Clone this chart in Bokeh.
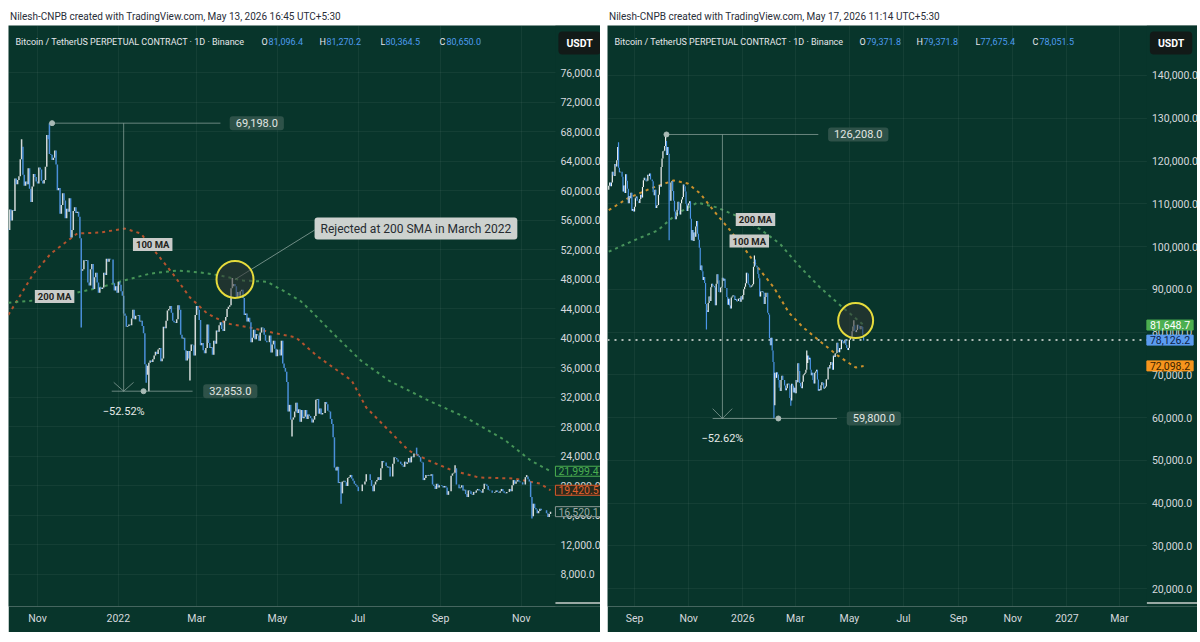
import numpy as np
import pandas as pd
from bokeh.plotting import figure
from bokeh.layouts import row, column
from bokeh.models import (Range1d, Label, NumeralTickFormatter, FixedTicker, Div, BoxAnnotation)
from bokeh.embed import file_html
from bokeh.resources import INLINE

# ======================= LEFT PANEL DATA (daily closes, thousands USDT) =======================
L_start = "2021-10-10"
L_open0 = 54.9
L_2021_10 = [54.7, 57.5, 56.0, 57.4, 57.3, 61.7, 60.9, 61.5, 62.0, 64.3, 66.0, 62.2, 60.7, 61.3, 60.9,
             63.1, 60.3, 58.5, 60.6, 62.3, 61.9, 61.3]
L_2021_11 = [61.0, 63.2, 62.9, 61.4, 61.0, 61.5, 63.3, 67.6, 67.0, 65.0, 64.9, 64.2, 64.5, 65.5, 63.6,
             60.1, 60.4, 56.9, 58.1, 59.7, 58.7, 56.3, 57.6, 57.2, 59.0, 53.7, 54.7, 57.3, 57.8, 57.0]
L_2021_12 = [57.2, 56.5, 53.6, 49.2, 49.4, 50.6, 50.5, 50.6, 47.6, 47.2, 49.4, 50.1, 46.7, 48.3, 48.9,
             47.6, 46.2, 46.9, 46.7, 46.9, 48.9, 48.6, 50.8, 50.4, 50.8, 50.7, 50.7, 47.5, 46.5, 47.1, 46.2]
L_2022_01 = [47.7, 47.3, 46.4, 45.8, 43.4, 43.1, 41.6, 41.7, 41.9, 41.8, 42.7, 43.9, 42.6, 43.1, 43.1,
             43.2, 42.3, 42.4, 41.7, 40.7, 36.5, 35.1, 36.3, 36.7, 37.0, 36.8, 37.2, 37.7, 38.2, 37.9, 38.5]
L_2022_02 = [38.7, 36.9, 37.3, 41.6, 41.4, 42.4, 43.8, 44.0, 44.4, 43.5, 42.4, 42.2, 42.1, 42.6, 44.5,
             43.9, 40.5, 40.0, 40.1, 38.4, 37.0, 38.3, 37.3, 38.3, 39.2, 39.1, 37.7, 43.2]
L_2022_03 = [44.4, 43.9, 42.5, 39.1, 39.4, 38.4, 38.0, 38.7, 41.9, 39.4, 38.7, 38.8, 37.8, 39.7, 39.3,
             41.1, 40.9, 41.8, 42.2, 41.3, 41.0, 42.4, 42.9, 44.0, 44.3, 44.5, 46.8, 47.1, 47.4, 47.1, 45.5]
L_2022_04 = [46.3, 45.8, 46.4, 46.6, 45.5, 43.2, 43.4, 42.3, 42.8, 42.2, 39.5, 40.1, 41.2, 39.9, 40.6,
             40.4, 39.7, 40.8, 41.5, 41.4, 40.5, 39.7, 39.5, 39.5, 40.4, 38.1, 39.2, 39.7, 38.6, 37.6]
L_2022_05 = [38.5, 38.5, 37.7, 39.7, 36.6, 36.0, 35.5, 34.1, 30.1, 31.0, 29.0, 29.0, 29.3, 30.1, 31.3,
             29.9, 30.4, 28.7, 30.3, 29.2, 29.4, 30.3, 29.1, 29.7, 29.5, 29.2, 28.6, 29.0, 29.5, 31.7, 31.8]
L_2022_06 = [29.8, 30.5, 29.7, 29.9, 29.9, 31.4, 31.1, 30.2, 30.1, 29.1, 28.4, 26.6, 22.5, 22.1, 22.6,
             20.4, 20.5, 19.0, 20.6, 20.7, 20.5, 20.0, 21.1, 21.2, 21.5, 21.0, 20.7, 20.3, 20.1, 19.9]
L_2022_07 = [19.3, 19.3, 19.3, 20.2, 20.2, 20.6, 21.6, 21.6, 21.6, 20.8, 20.0, 19.3, 20.2, 20.6, 20.8,
             21.2, 20.8, 22.4, 23.4, 23.2, 23.2, 22.7, 22.5, 22.6, 21.3, 21.3, 23.0, 23.9, 23.8, 23.6, 23.3]
L_2022_08 = [23.3, 23.0, 22.8, 22.6, 23.3, 23.0, 23.2, 23.8, 23.2, 24.0, 23.9, 24.4, 24.4, 24.3, 24.1,
             23.9, 23.3, 23.2, 20.8, 21.1, 21.5, 21.4, 21.5, 21.4, 21.6, 20.2, 20.0, 19.6, 20.3, 19.8, 20.1]
L_2022_09 = [20.1, 20.0, 19.8, 20.0, 19.8, 18.8, 19.3, 19.3, 21.4, 21.7, 21.8, 22.4, 20.2, 20.2, 19.7,
             19.8, 20.1, 19.4, 19.5, 18.9, 18.5, 19.4, 19.3, 18.9, 18.8, 19.2, 19.1, 19.4, 19.6, 19.4]
L_2022_10 = [19.3, 19.1, 19.6, 20.3, 20.2, 20.0, 19.5, 19.4, 19.4, 19.1, 19.1, 19.2, 19.4, 19.2, 19.1,
             19.3, 19.6, 19.3, 19.1, 19.0, 19.2, 19.2, 19.6, 19.3, 20.1, 20.8, 20.3, 20.6, 20.8, 20.6, 20.5]
L_2022_11 = [20.5, 20.2, 20.2, 21.2, 21.3, 20.9, 20.6, 18.5, 15.9, 17.6, 17.0, 16.8, 16.3, 16.6, 16.9,
             16.7, 16.7, 16.7, 16.7, 16.3, 15.8, 16.2, 16.52]
L_wick_hi_dates = ["2021-10-20", "2021-11-10", "2022-03-28", "2022-08-14", "2022-09-12", "2022-11-05"]
L_wick_hi = [67000, 69198, 48190, 25200, 22800, 21480]
L_wick_lo_dates = ["2021-12-04", "2022-01-22", "2022-01-24", "2022-02-24", "2022-05-12", "2022-06-18", "2022-11-09"]
L_wick_lo = [41500, 34000, 32853, 34300, 26700, 17600, 15600]

L_ma100_dates = ["2021-10-10", "2021-10-29", "2021-11-11", "2021-12-01", "2021-12-18", "2022-01-06",
                 "2022-01-18", "2022-01-30", "2022-02-11", "2022-02-24", "2022-03-09", "2022-03-24",
                 "2022-04-10", "2022-04-27", "2022-05-15", "2022-05-31", "2022-06-26", "2022-07-07",
                 "2022-07-24", "2022-08-08", "2022-08-23", "2022-09-10", "2022-09-30", "2022-10-26",
                 "2022-11-15", "2022-11-23"]
L_ma100 = [43200, 48800, 51500, 54240, 54370, 54900, 54240, 51500, 48800, 45560, 43390, 42030, 41490,
           40810, 40140, 37600, 34300, 30640, 27530, 24810, 23460, 22100, 21150, 21020, 20340, 19420.5]
L_ma200_dates = ["2021-10-10", "2021-10-29", "2021-12-01", "2021-12-18", "2022-01-05", "2022-01-25",
                 "2022-02-15", "2022-03-04", "2022-03-19", "2022-04-05", "2022-04-23", "2022-05-05",
                 "2022-05-18", "2022-05-26", "2022-06-12", "2022-07-03", "2022-07-24", "2022-08-23",
                 "2022-09-20", "2022-10-20", "2022-11-08", "2022-11-23"]
L_ma200 = [44850, 45150, 46240, 46900, 47860, 48800, 49220, 48950, 48540, 47860, 47700, 46510, 45150,
           43800, 40680, 37000, 34300, 31590, 29290, 26170, 23460, 21999.4]

L_price_ticks = [8000, 12000, 16000, 20000, 24000, 28000, 32000, 36000, 40000, 44000, 48000, 52000,
                 56000, 60000, 64000, 68000, 72000, 76000]
L_date_ticks = ["2021-11-01", "2022-01-01", "2022-03-01", "2022-05-01", "2022-07-01", "2022-09-01", "2022-11-01"]
L_date_labels = ["Nov", "2022", "Mar", "May", "Jul", "Sep", "Nov"]
L_last_text = ["21,999.4", "19,420.5", "16,520.1"]
L_last_vals = [21999.4, 19420.5, 16520.1]
L_header = "Nilesh-CNPB created with TradingView.com, May 13, 2026 16:45 UTC+5:30"
L_ohlc_text = ["81,096.4", "81,270.2", "80,364.5", "80,650.0"]
L_range_dates = ["2021-11-12", "2022-01-20"]      # high point, low point of range tool
L_range_vals = [69198.0, 32853.0]
L_range_text = ["69,198.0", "32,853.0", "\u221252.52%"]
L_note = "Rejected at 200 SMA in March 2022"

# ======================= RIGHT PANEL DATA (daily closes, thousands USDT) =======================
R_start = "2025-08-03"
R_open0 = 113.3
R_2025_08 = [114.2, 115.0, 114.1, 115.0, 117.5, 116.7, 116.5, 119.3, 118.7, 120.2, 123.3, 118.4, 117.4,
             117.5, 117.5, 116.3, 112.9, 114.3, 112.5, 116.9, 115.4, 113.5, 110.1, 111.8, 111.3, 112.6,
             108.4, 108.8, 108.2]
R_2025_09 = [109.3, 111.3, 111.7, 110.7, 110.7, 110.2, 111.1, 112.1, 111.5, 113.9, 115.5, 116.1, 115.9,
             115.3, 115.4, 116.8, 116.5, 117.1, 115.7, 115.7, 115.3, 112.7, 112.0, 113.3, 109.0, 109.6,
             109.7, 112.1, 114.4, 114.0]
R_2025_10 = [118.6, 120.6, 122.3, 122.4, 123.5, 124.7, 121.4, 123.3, 121.7, 113.2, 110.7, 115.0, 115.3,
             113.0, 110.7, 108.2, 106.4, 107.1, 108.6, 110.5, 108.4, 107.5, 110.1, 111.0, 111.6, 114.5,
             114.1, 112.9, 110.0, 108.3, 109.6]
R_2025_11 = [110.1, 110.6, 106.5, 101.5, 103.9, 101.3, 103.3, 102.3, 104.7, 106.0, 103.0, 101.6, 99.7,
             94.5, 95.6, 94.2, 92.2, 92.9, 91.5, 86.6, 85.1, 84.7, 86.8, 88.3, 87.3, 90.5, 91.3, 90.9,
             90.8, 90.4]
R_2025_12 = [86.3, 91.3, 93.5, 92.1, 89.4, 89.3, 90.4, 90.6, 92.7, 92.0, 92.5, 90.3, 90.3, 88.2, 86.4,
             87.8, 86.2, 85.5, 88.1, 88.3, 88.6, 88.5, 87.5, 87.7, 87.2, 87.3, 87.8, 87.9, 87.1, 88.4, 87.6]
R_2026_01 = [88.7, 90.0, 90.6, 91.4, 93.9, 93.7, 91.3, 91.0, 90.5, 90.6, 90.9, 91.2, 95.3, 97.0, 95.6,
             95.5, 95.1, 93.6, 92.6, 88.3, 89.5, 89.4, 89.5, 89.2, 86.6, 88.2, 89.2, 89.2, 84.5, 84.1, 78.6]
R_2026_02 = [76.9, 78.7, 75.7, 73.0, 62.9, 70.5, 69.3, 70.6, 70.1, 68.8, 67.0, 66.2, 68.8, 69.8, 68.8,
             68.8, 67.5, 66.4, 66.9, 67.9, 68.0, 67.6, 64.6, 64.0, 67.9, 67.5, 65.9, 67.0]
R_2026_03 = [65.7, 68.8, 68.3, 72.7, 70.9, 68.1, 67.3, 66.9, 68.4, 69.9, 70.2, 70.5, 71.2, 72.8, 74.5,
             73.6, 74.0, 71.2, 69.9, 70.5, 68.8, 68.0, 70.5, 70.8, 71.2, 68.9, 66.3, 66.7, 66.4, 67.6, 68.3]
R_2026_04 = [68.1, 66.8, 67.0, 67.3, 69.0, 68.9, 71.8, 71.5, 72.3, 73.0, 72.9, 71.2, 74.5, 74.2, 75.0,
             75.1, 77.5, 75.8, 75.3, 76.3, 76.0, 78.2, 77.9, 77.4, 77.5, 78.2, 77.0, 76.3, 75.8, 76.3]
R_2026_05 = [78.2, 78.6, 78.7, 80.2, 81.3, 81.6, 80.3, 80.0, 80.5, 81.7, 81.5, 80.8, 80.65, 81.4, 81.2,
             79.4, 78.05]
R_wick_hi_dates = ["2025-08-14", "2025-10-06", "2026-01-14", "2026-03-14", "2026-05-06"]
R_wick_hi = [124400, 126208, 97900, 75700, 82800]
R_wick_lo_dates = ["2025-10-10", "2025-11-21", "2026-02-05", "2026-02-24"]
R_wick_lo = [101500, 80600, 59800, 62800]

R_ma100_dates = ["2025-08-03", "2025-08-24", "2025-09-19", "2025-10-15", "2025-10-31", "2025-11-14",
                 "2025-11-29", "2025-12-15", "2026-01-02", "2026-01-18", "2026-02-05", "2026-02-22",
                 "2026-03-10", "2026-03-28", "2026-04-18", "2026-05-08", "2026-05-17"]
R_ma100 = [108500, 111240, 113580, 115450, 114750, 112410, 108430, 104460, 99780, 95100, 90400, 84500,
           81080, 78000, 74500, 71720, 72098.2]
R_ma200_dates = ["2025-08-03", "2025-08-31", "2025-09-27", "2025-10-19", "2025-11-11", "2025-12-03",
                 "2025-12-29", "2026-01-21", "2026-02-12", "2026-03-07", "2026-03-29", "2026-04-21",
                 "2026-05-17"]
R_ma200 = [98800, 101420, 103760, 107730, 110300, 109130, 106800, 104000, 100600, 95100, 90430, 86200,
           81648.7]

R_price_ticks = [20000, 30000, 40000, 50000, 60000, 70000, 80000, 90000, 100000, 110000, 120000,
                 130000, 140000]
R_date_ticks = ["2025-09-01", "2025-11-01", "2026-01-01", "2026-03-01", "2026-05-01", "2026-07-01",
                "2026-09-01", "2026-11-01", "2027-01-01", "2027-03-01"]
R_date_labels = ["Sep", "Nov", "2026", "Mar", "May", "Jul", "Sep", "Nov", "2027", "Mar"]
R_last_text = ["81,648.7", "78,126.2", "72,098.2"]
R_last_vals = [81648.7, 78126.2, 72098.2]
R_header = "Nilesh-CNPB created with TradingView.com, May 17, 2026 11:14 UTC+5:30"
R_ohlc_text = ["79,371.8", "79,371.8", "77,675.4", "78,051.5"]
R_range_dates = ["2025-10-07", "2026-02-10"]
R_range_vals = [126208.0, 59800.0]
R_range_text = ["126,208.0", "59,800.0", "\u221252.62%"]

ticker_title = "Bitcoin / TetherUS PERPETUAL CONTRACT \u00b7 1D \u00b7 Binance"
ohlc_letters = ["O", "H", "L", "C"]

# ======================= styling =======================
FONT = "Roboto"
BG = "#08352b"
AXIS_TXT = "#d6d9de"
DAY = 86400000.0


def ms(d):
    return pd.Timestamp(d).value / 1e6


def ohlc(start, open0, closes, hi_dates, hi_vals, lo_dates, lo_vals):
    dates = pd.date_range(start, periods=len(closes), freq="D")
    c = np.array(closes, dtype=float) * 1000.0
    o = np.concatenate([[open0 * 1000.0], c[:-1]])
    h = np.maximum(o, c)
    l = np.minimum(o, c)
    for d, v in zip(hi_dates, hi_vals):
        i = (pd.Timestamp(d) - dates[0]).days
        h[i] = max(h[i], v)
    for d, v in zip(lo_dates, lo_vals):
        i = (pd.Timestamp(d) - dates[0]).days
        l[i] = min(l[i], v)
    return dates, o, h, l, c


def base_fig(W, H, xr, scale_at, yr, yticks, dticks, dlabels):
    p = figure(width=W, height=H, x_axis_type="datetime", y_axis_location="right",
               x_range=Range1d(ms(xr[0]), ms(xr[1])), y_range=Range1d(yr[0], yr[1]),
               toolbar_location=None, output_backend="svg",
               background_fill_color=BG, border_fill_color=BG, outline_line_color=None,
               min_border_left=0, min_border_top=0, min_border_bottom=26, min_border_right=0)
    tick_ms = [int(ms(d)) for d in dticks]
    p.xaxis.ticker = FixedTicker(ticks=tick_ms)
    p.xaxis.major_label_overrides = {t: lab for t, lab in zip(tick_ms, dlabels)}
    p.xaxis.bounds = (ms(xr[0]), ms(scale_at))
    p.yaxis.ticker = FixedTicker(ticks=yticks)
    p.yaxis.formatter = NumeralTickFormatter(format="0,0.0")
    p.yaxis.fixed_location = ms(scale_at)
    for ax in (p.xaxis[0], p.yaxis[0]):
        ax.axis_line_color = None
        ax.major_tick_line_color = None
        ax.minor_tick_line_color = None
        ax.major_tick_out = 0
        ax.major_tick_in = 0
        ax.minor_tick_out = 0
        ax.minor_tick_in = 0
        ax.major_label_text_color = AXIS_TXT
        ax.major_label_text_font = FONT
        ax.major_label_text_font_size = "10.5px"
    p.xaxis.major_label_standoff = 5
    p.yaxis.major_label_standoff = 5
    p.xgrid.grid_line_color = "#ffffff"
    p.xgrid.grid_line_alpha = 0.05
    p.ygrid.grid_line_color = "#ffffff"
    p.ygrid.grid_line_alpha = 0.05
    # price-scale area: plain background (hides grid lines there)
    p.add_layout(BoxAnnotation(left=ms(scale_at), fill_color=BG, fill_alpha=1.0, line_color=None,
                               level="underlay"))
    # short separator line at the foot of the price scale
    y_foot = yr[0] + (yr[1] - yr[0]) * 0.006
    p.segment(x0=[ms(scale_at)], y0=[y_foot], x1=[ms(xr[1])], y1=[y_foot],
              line_color="#c9cfcd", line_width=1.5)
    return p


def add_candles(p, data, up, dn, lw):
    dates, o, h, l, c = data
    cols = [up if cc >= oo else dn for oo, cc in zip(o, c)]
    x = [ms(d) for d in dates]
    p.segment(x0=x, y0=l, x1=x, y1=h, line_color=cols, line_width=lw)


def add_header(p, xr, scale_at, yr, ohlc_vals, offsets):
    x0 = ms(xr[0])
    kw = dict(y=yr[1], y_offset=-16, text_baseline="middle", text_font=FONT, text_font_size="9px")
    p.add_layout(Label(x=x0, x_offset=offsets[0], text=ticker_title, text_color="#e6e8ec", **kw))
    for k in range(4):
        p.add_layout(Label(x=x0, x_offset=offsets[1 + 2 * k], text=ohlc_letters[k], text_color="#e6e8ec", **kw))
        p.add_layout(Label(x=x0, x_offset=offsets[2 + 2 * k], text=ohlc_vals[k], text_color="#4d9cf0", **kw))
    p.add_layout(Label(x=ms(scale_at), y=yr[1], x_offset=3, y_offset=-6, text="USDT", text_baseline="top",
                       text_color="#ffffff", text_font=FONT, text_font_size="10.5px", text_font_style="bold",
                       background_fill_color="#121a18", border_radius=4, padding=(8, 5)))


def add_ma(p, dates, vals, color):
    p.line([ms(d) for d in dates], vals, line_color=color, line_width=2, line_dash="3 4", line_alpha=0.9)


def ma_tag(p, date, val, text):
    p.add_layout(Label(x=ms(date), y=val, text=text, text_baseline="middle", text_font=FONT,
                       text_font_size="9.5px", text_font_style="bold", text_color="#1f2320",
                       background_fill_color="#c9cbc9", padding=(3, 1)))


def last_tag(p, scale_at, val, text, fill, border, color):
    p.add_layout(Label(x=ms(scale_at), y=val, x_offset=0, text=text, text_baseline="middle",
                       text_font=FONT, text_font_size="10.5px", text_color=color,
                       background_fill_color=fill, border_line_color=border, padding=(3, 1)))


def range_tool(p, dates, vals, texts, top_end, box_hi, mid, bot0, bot1, box_lo, dx_days, dy):
    col = "#8aa29b"
    p.segment(x0=[ms(dates[0]), ms(mid), ms(bot0), ms(mid) - dx_days * DAY, ms(mid)],
              y0=[vals[0], vals[0], vals[1], vals[1] + dy, vals[1]],
              x1=[ms(top_end), ms(mid), ms(bot1), ms(mid), ms(mid) + dx_days * DAY],
              y1=[vals[0], vals[1], vals[1], vals[1], vals[1] + dy],
              line_color=col, line_width=1, line_alpha=0.75)
    p.scatter([ms(dates[0]), ms(dates[1])], vals, size=5, color="#a9bab5")
    box = dict(text_baseline="middle", text_font=FONT, text_font_size="11px", text_color="#e2e6e3",
               background_fill_color="#2e5249", border_radius=3, padding=(6, 3))
    p.add_layout(Label(x=ms(box_hi), y=vals[0], text=texts[0], **box))
    p.add_layout(Label(x=ms(box_lo), y=vals[1], text=texts[1], **box))
    p.add_layout(Label(x=ms(mid), y=vals[1], y_offset=-20, text=texts[2], text_align="center",
                       text_baseline="middle", text_font=FONT, text_font_size="11px", text_color="#e6e9e7"))


def circle(p, date, val, size):
    p.scatter([ms(date)], [val], size=size, marker="circle", fill_color="#333333", fill_alpha=0.55,
              line_color="#e6dc3c", line_width=2)


# ======================= LEFT FIGURE =======================
L_xr = ("2021-10-10 03:00", "2022-12-30 17:00")
L_scale = "2022-11-26 17:00"
L_yr = (3660, 82440)
pL = base_fig(592, 607, L_xr, L_scale, L_yr, L_price_ticks, L_date_ticks, L_date_labels)
L_closes = (L_2021_10 + L_2021_11 + L_2021_12 + L_2022_01 + L_2022_02 + L_2022_03 + L_2022_04 +
            L_2022_05 + L_2022_06 + L_2022_07 + L_2022_08 + L_2022_09 + L_2022_10 + L_2022_11)
add_ma(pL, L_ma100_dates, L_ma100, "#c8562e")
add_ma(pL, L_ma200_dates, L_ma200, "#4c9e5c")
add_candles(pL, ohlc(L_start, L_open0, L_closes, L_wick_hi_dates, L_wick_hi, L_wick_lo_dates, L_wick_lo),
            "#d3d9d8", "#4a8fd8", 1.5)
range_tool(pL, L_range_dates, L_range_vals, L_range_text, "2022-03-19", "2022-03-26", "2022-01-05",
           "2021-12-27", "2022-02-26", "2022-03-06", 7.5, 1200)
# callout
pL.segment(x0=[ms("2022-03-30")], y0=[48000], x1=[ms("2022-05-29")], y1=[54700],
           line_color="#8aa29b", line_width=1, line_alpha=0.8)
circle(pL, "2022-03-30", 48000, 37)
pL.add_layout(Label(x=ms("2022-05-29"), y=54900, text=L_note, text_baseline="middle", text_font=FONT,
                    text_font_size="12px", text_color="#262b30", background_fill_color="#cdd2cf",
                    border_radius=3, padding=(6, 4)))
ma_tag(pL, "2022-01-12", 52750, "100 MA")
ma_tag(pL, "2021-10-30", 45700, "200 MA")
last_tag(pL, L_scale, L_last_vals[0], L_last_text[0], BG, "#4caf50", "#4caf50")
last_tag(pL, L_scale, L_last_vals[1], L_last_text[1], "#2b2a1c", "#d9582a", "#e0612d")
last_tag(pL, L_scale, L_last_vals[2], L_last_text[2], BG, "#8c9a96", "#9eaaa6")
add_header(pL, L_xr, L_scale, L_yr, L_ohlc_text, [7, 253, 260, 311, 318, 372, 377, 431, 438])

# ======================= RIGHT FIGURE =======================
R_xr = ("2025-08-01 14:00", "2027-05-28 00:00")
R_scale = "2027-04-01 00:00"
R_yr = (15840, 151690)
pR = base_fig(590, 607, R_xr, R_scale, R_yr, R_price_ticks, R_date_ticks, R_date_labels)
R_closes = (R_2025_08 + R_2025_09 + R_2025_10 + R_2025_11 + R_2025_12 + R_2026_01 + R_2026_02 +
            R_2026_03 + R_2026_04 + R_2026_05)
pR.segment(x0=[ms(R_xr[0])], y0=[R_last_vals[1]], x1=[ms(R_scale)], y1=[R_last_vals[1]],
           line_color="#e3e6e4", line_width=1.5, line_dash="2 5")
add_ma(pR, R_ma100_dates, R_ma100, "#e09a2c")
add_ma(pR, R_ma200_dates, R_ma200, "#4f9d60")
add_candles(pR, ohlc(R_start, R_open0, R_closes, R_wick_hi_dates, R_wick_hi, R_wick_lo_dates, R_wick_lo),
            "#f2f4f4", "#4b95e8", 1.2)
range_tool(pR, R_range_dates, R_range_vals, R_range_text, "2026-03-27", "2026-04-07", "2025-12-09",
           "2025-11-28", "2026-04-17", "2026-04-28", 11, 2300)
circle(pR, "2026-05-08", 82700, 35)
ma_tag(pR, "2025-12-24", 106330, "200 MA")
ma_tag(pR, "2025-12-17", 101300, "100 MA")
last_tag(pR, R_scale, R_last_vals[0], R_last_text[0], "#4caf50", "#4caf50", "#ffffff")
last_tag(pR, R_scale, R_last_vals[1], R_last_text[1], "#5b9cf0", "#5b9cf0", "#0f2347")
last_tag(pR, R_scale, R_last_vals[2], R_last_text[2], "#f7951d", "#f7951d", "#3a1f00")
add_header(pR, R_xr, R_scale, R_yr, R_ohlc_text, [7, 252, 259, 309, 316, 368, 373, 425, 432])

# ======================= page =======================
hstyle = {"font-family": "Roboto, sans-serif", "font-size": "10px", "color": "#2a2e39",
          "line-height": "17px", "padding-left": "2px", "white-space": "nowrap"}
dL = Div(text=L_header, width=592, height=17, margin=(0, 0, 0, 0), styles=hstyle)
dR = Div(text=R_header, width=590, height=17, margin=(0, 0, 0, 0), styles=hstyle)
pL.margin = (0, 0, 0, 0)
pR.margin = (0, 0, 0, 0)
layout = column(row(dL, dR, spacing=7), row(pL, pR, spacing=7), spacing=0, margin=(8, 0, 0, 8))

open("out.html", "w").write(file_html(layout, INLINE))
